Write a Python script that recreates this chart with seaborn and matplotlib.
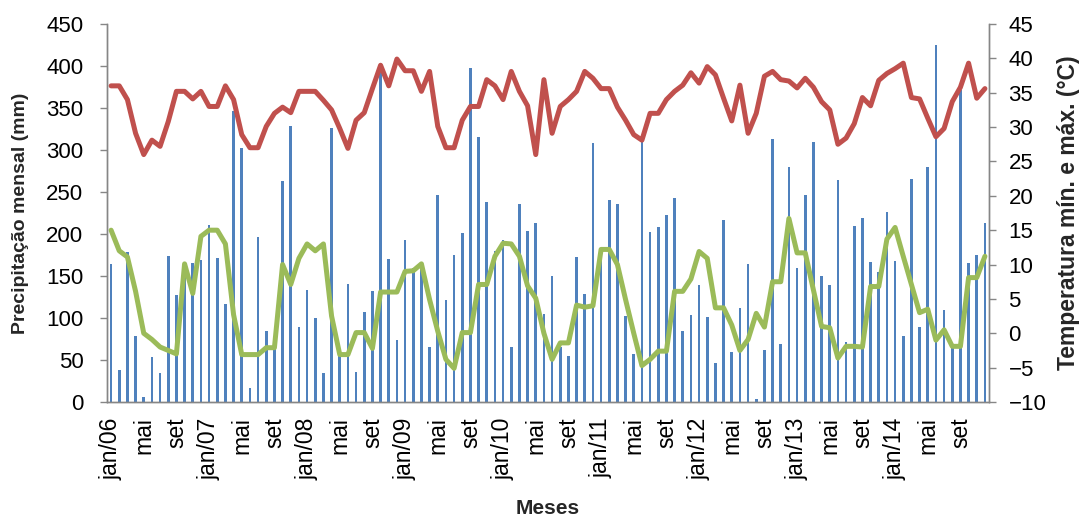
import numpy as np
import pandas as pd
import matplotlib
matplotlib.use("Agg")
import matplotlib.pyplot as plt
import seaborn as sns
from matplotlib.ticker import FixedLocator, MultipleLocator

# ---------------- data ----------------
month_names = ['jan', 'fev', 'mar', 'abr', 'mai', 'jun', 'jul', 'ago', 'set', 'out', 'nov', 'dez']
years = ['06', '07', '08', '09', '10', '11', '12', '13', '14']

precip = [164, 38, 179, 79, 6, 54, 35, 174, 127, 150,
          165, 169, 211, 171, 117, 347, 302, 17, 196, 85,
          63, 263, 328, 89, 133, 100, 35, 326, 58, 140,
          36, 107, 132, 394, 170, 74, 193, 160, 165, 66,
          246, 121, 175, 201, 398, 315, 238, 180, 193, 65,
          236, 204, 213, 105, 150, 66, 55, 173, 128, 308,
          180, 240, 236, 102, 57, 312, 202, 208, 223, 243,
          85, 104, 139, 101, 46, 217, 60, 112, 164, 4,
          62, 313, 69, 280, 160, 247, 310, 150, 139, 264,
          72, 210, 219, 167, 155, 226, 168, 79, 266, 89,
          280, 425, 110, 66, 372, 165, 175, 213]

tmax = [36.0, 36.0, 34.0, 29.1, 26.0, 28.1, 27.2, 30.8, 35.2, 35.2,
        34.1, 35.2, 33.0, 33.0, 36.0, 34.0, 28.9, 27.0, 27.0, 30.1,
        32.0, 32.9, 32.1, 35.2, 35.2, 35.2, 33.9, 32.5, 29.8, 26.9,
        31.0, 32.1, 35.6, 39.0, 36.0, 39.9, 38.2, 38.2, 35.2, 38.1,
        30.1, 27.0, 27.0, 31.0, 33.0, 33.0, 36.9, 36.0, 34.0, 38.1,
        35.2, 33.1, 26.0, 36.9, 29.1, 33.0, 34.0, 35.2, 38.1, 37.1,
        35.6, 35.6, 32.9, 31.0, 28.9, 28.1, 32.0, 32.0, 34.0, 35.2,
        36.1, 37.9, 36.4, 38.8, 37.6, 34.2, 30.9, 36.1, 29.1, 32.0,
        37.4, 38.1, 36.9, 36.7, 35.7, 37.1, 35.8, 33.7, 32.5, 27.5,
        28.4, 30.5, 34.3, 33.1, 36.8, 37.8, 38.5, 39.3, 34.3, 34.1,
        31.3, 28.6, 29.8, 33.7, 35.8, 39.3, 34.2, 35.6]

tmin = [15.0, 12.0, 11.1, 6.1, 0.0, -0.9, -2.0, -2.5, -3.0, 10.1,
        5.8, 14.1, 15.0, 15.0, 13.0, 2.7, -3.1, -3.1, -3.1, -2.1,
        -2.1, 10.0, 7.1, 10.9, 13.0, 12.0, 13.0, 2.5, -3.1, -3.1,
        0.1, 0.1, -2.2, 6.0, 6.0, 6.0, 9.0, 9.1, 10.1, 4.9,
        0.3, -3.8, -5.1, 0.1, 0.1, 7.1, 7.1, 11.2, 13.1, 13.0,
        11.2, 6.9, 5.1, 0.0, -3.8, -1.4, -1.4, 4.1, 3.8, 4.0,
        12.2, 12.2, 10.0, 4.9, 0.0, -4.7, -3.8, -2.6, -2.6, 6.1,
        6.1, 7.9, 11.9, 10.9, 3.7, 3.7, 1.2, -2.5, -0.9, 2.9,
        0.9, 7.5, 7.5, 16.7, 11.7, 11.7, 6.3, 1.0, 0.8, -3.6,
        -1.9, -1.9, -2.0, 6.8, 6.8, 13.7, 15.4, 11.2, 7.1, 3.0,
        3.5, -1.0, 0.5, -1.9, -1.9, 8.1, 8.1, 11.2]

months = [f"{m}/{y}" for y in years for m in month_names]
tick_labels = [(m if m.startswith('jan') else m.split('/')[0]) if i % 4 == 0 else ''
               for i, m in enumerate(months)]

df = pd.DataFrame({'mes': months, 'idx': np.arange(len(months)),
                   'prec': precip, 'tmax': tmax, 'tmin': tmin})

# ---------------- style ----------------
sns.set_style("white")
plt.rcParams['font.family'] = ['Liberation Sans', 'DejaVu Sans']

BLUE = '#4F81BD'
RED = '#C0504D'
GREEN = '#9BBB59'
GRAY = '#868686'

fig = plt.figure(figsize=(10.84, 5.18), dpi=100)
ax = fig.add_axes([107 / 1084, 1 - 402 / 518, (989 - 107) / 1084, (402 - 24) / 518])

sns.barplot(data=df, x='idx', y='prec', native_scale=True, color=BLUE,
            width=0.33, saturation=1, ax=ax, edgecolor='none', linewidth=0)

ax2 = ax.twinx()
sns.lineplot(data=df, x='idx', y='tmax', color=RED, lw=3.6, ax=ax2)
sns.lineplot(data=df, x='idx', y='tmin', color=GREEN, lw=3.6, ax=ax2)

n = len(months)
ax.set_xlim(-0.5, n - 0.5)
ax.set_ylim(0, 450)
ax2.set_ylim(-10, 45)

ax.yaxis.set_major_locator(MultipleLocator(50))
ax2.yaxis.set_major_locator(MultipleLocator(5))

label_pos = [i for i in range(n) if i % 4 == 0]
ax.xaxis.set_major_locator(FixedLocator(label_pos))
ax.set_xticklabels([tick_labels[i] for i in label_pos], rotation=90)
ax.xaxis.set_minor_locator(FixedLocator(np.arange(-0.5, n, 1.0)))

for a in (ax, ax2):
    for s in a.spines.values():
        s.set_color(GRAY)
        s.set_linewidth(1.0)
    a.spines['top'].set_visible(False)

ax.tick_params(axis='x', which='major', length=0, pad=11, labelsize=16.5, colors='black')
ax.tick_params(axis='x', which='minor', length=6, width=1, color=GRAY, direction='out')
ax.tick_params(axis='y', which='major', length=5, width=1, color=GRAY, direction='out',
               labelsize=16, labelcolor='black', left=True, pad=12)
ax2.tick_params(axis='y', which='major', length=5, width=1, color=GRAY, direction='out',
                labelsize=16, labelcolor='black', right=True, pad=9)

ax.set_xlabel('Meses', fontsize=15, fontweight='bold', labelpad=14)
ax.set_ylabel('Precipitação mensal (mm)', fontsize=14, fontweight='bold', labelpad=12)
ax2.set_ylabel('Temperatura mín. e máx. (°C)', fontsize=16.5, fontweight='bold', labelpad=8)
ax.grid(False)
ax2.grid(False)

fig.savefig('out.png', dpi=100, facecolor='white')
